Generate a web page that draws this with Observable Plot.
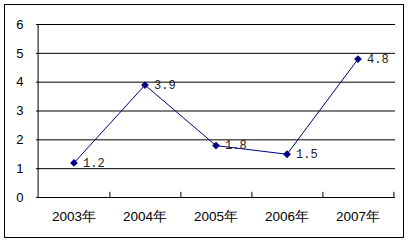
<!DOCTYPE html>
<html><head><meta charset="utf-8">
<script src="https://cdn.jsdelivr.net/npm/d3@7"></script>
<script src="https://cdn.jsdelivr.net/npm/@observablehq/plot@0.6"></script>
<style>
html,body{margin:0;padding:0;background:#fff;}
#wrap{position:relative;width:408px;height:244px;}
#border{position:absolute;left:4px;top:4px;width:398px;height:232px;border:1px solid #000;pointer-events:none;}
#chart{position:absolute;left:0;top:0;}
</style></head>
<body>
<div id="wrap"><div id="chart"></div><div id="border"></div></div>
<script>
const years = ["2003年","2004年","2005年","2006年","2007年"];
const values = [1.2, 3.9, 1.8, 1.5, 4.8];
const labels = ["1.2","3.9","1.8","1.5","4.8"];
const yTicks = [0,1,2,3,4,5,6];

const data = years.map((y,i)=>({year:y, value:values[i], label:labels[i]}));
const W = 408, H = 244, mL = 36, mR = 13, mT = 24, mB = 47;
const bw = (W - mL - mR) / years.length;

const plot = Plot.plot({
  width: W, height: H,
  marginLeft: mL, marginRight: mR, marginTop: mT, marginBottom: mB,
  style: {background: "#fff", fontFamily: "'Liberation Sans', Arial, sans-serif", fontSize: "13px", color: "#000"},
  x: {type: "band", domain: years, padding: 0, label: null},
  y: {domain: [0, 6], label: null},
  marks: [
    Plot.ruleY(yTicks, {stroke: "#000", strokeWidth: 1}),
    Plot.ruleX([years[0]], {y1: 0, y2: 6, dx: -bw/2, stroke: "#000"}),
    Plot.ruleX(years, {y1: 0, y2: 0.18, dx: bw/2, stroke: "#000"}),
    Plot.axisY(yTicks, {tickSize: 0, tickPadding: 13, fontSize: 13, label: null}),
    Plot.axisX({tickSize: 0, tickPadding: 14, fontSize: 13.5, label: null}),
    Plot.line(data, {x: "year", y: "value", stroke: "#000080", strokeWidth: 1}),
    Plot.dot(data, {x: "year", y: "value", symbol: "diamond2", r: 3.5, fill: "#000080", stroke: "none"}),
    Plot.text(data, {x: "year", y: "value", text: "label", dx: 9, textAnchor: "start", fill: "#222", fontFamily: "'Liberation Mono', monospace", fontSize: 12})
  ]
});
document.getElementById("chart").appendChild(plot);
</script>
</body></html>
